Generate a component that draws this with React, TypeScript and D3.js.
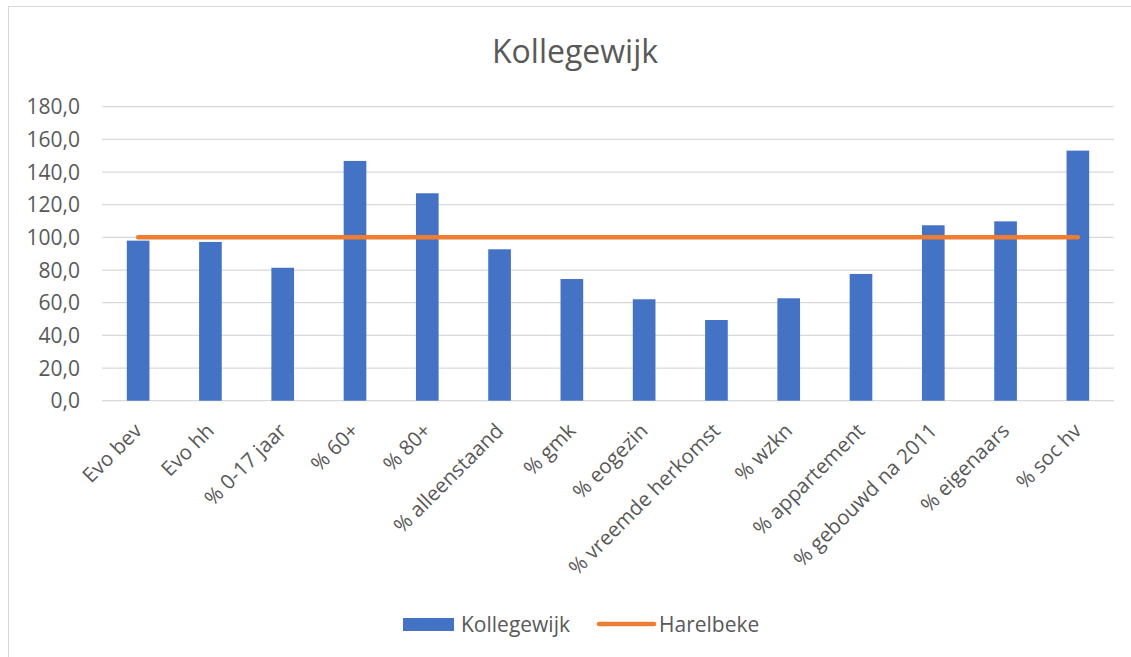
import React from "react";
import * as d3 from "d3";

const categories = [
  "Evo bev", "Evo hh", "% 0-17 jaar", "% 60+", "% 80+", "% alleenstaand", "% gmk",
  "% eogezin", "% vreemde herkomst", "% wzkn", "% appartement", "% gebouwd na 2011",
  "% eigenaars", "% soc hv",
];
const kollegewijk = [98.0, 97.2, 81.4, 146.8, 127.0, 92.7, 74.5, 62.1, 49.4, 62.7, 77.6, 107.4, 109.8, 153.1];
const harelbeke = [100, 100, 100, 100, 100, 100, 100, 100, 100, 100, 100, 100, 100, 100];
const yTicks = [0, 20, 40, 60, 80, 100, 120, 140, 160, 180];

const W = 1131, H = 657;
const FONT = "'Open Sans', sans-serif";
const TXT = "#595959";

export default function App() {
  const x = d3.scaleBand<string>().domain(categories).range([102, 1114]).paddingInner(0).paddingOuter(0);
  const y = d3.scaleLinear().domain([0, 180]).range([400.7, 106.7]);
  const bw = x.bandwidth() / 3.19;
  const line = d3.line<number>()
    .x((_, i) => (x(categories[i]) as number) + x.bandwidth() / 2)
    .y((d) => y(d));
  const fmt = (v: number) => v.toFixed(1).replace(".", ",");

  return (
    <svg width={W} height={H} style={{ position: "absolute", left: 0, top: 0, display: "block" }}>
      <rect x={0} y={0} width={W} height={H} fill="#fff" />
      <rect x={8.5} y={6.5} width={W + 10} height={H + 10} fill="none" stroke="#d9d9d9" strokeWidth={1} />
      <text x={575} y={63} textAnchor="middle" fontFamily={FONT} fontSize={32} fill={TXT}>Kollegewijk</text>
      {yTicks.map((t) => (
        <g key={t}>
          <line x1={102} x2={1114} y1={y(t)} y2={y(t)} stroke="#d9d9d9" strokeWidth={1.3} />
          <text x={80} y={y(t)} dy="0.36em" textAnchor="end" fontFamily={FONT} fontSize={21} fill={TXT}>{fmt(t)}</text>
        </g>
      ))}
      {categories.map((c, i) => {
        const cx = (x(c) as number) + x.bandwidth() / 2;
        return (
          <rect key={c} x={cx - bw / 2} y={y(kollegewijk[i])} width={bw} height={y(0) - y(kollegewijk[i])} fill="#4472C4" />
        );
      })}
      <path d={line(harelbeke) || ""} fill="none" stroke="#ED7D31" strokeWidth={4.5} strokeLinecap="round" />
      {categories.map((c) => {
        const cx = (x(c) as number) + x.bandwidth() / 2;
        return (
          <text key={c} transform={`translate(${cx + 5},${432}) rotate(-45)`} textAnchor="end"
            fontFamily={FONT} fontSize={20.5} fill={TXT}>{c}</text>
        );
      })}
      <rect x={403} y={618} width={51} height={13} fill="#4472C4" />
      <text x={461} y={624} dy="0.36em" fontFamily={FONT} fontSize={21} fill={TXT}>Kollegewijk</text>
      <line x1={599} x2={654} y1={624} y2={624} stroke="#ED7D31" strokeWidth={4.5} strokeLinecap="round" />
      <text x={659} y={624} dy="0.36em" fontFamily={FONT} fontSize={21} fill={TXT}>Harelbeke</text>
    </svg>
  );
}
